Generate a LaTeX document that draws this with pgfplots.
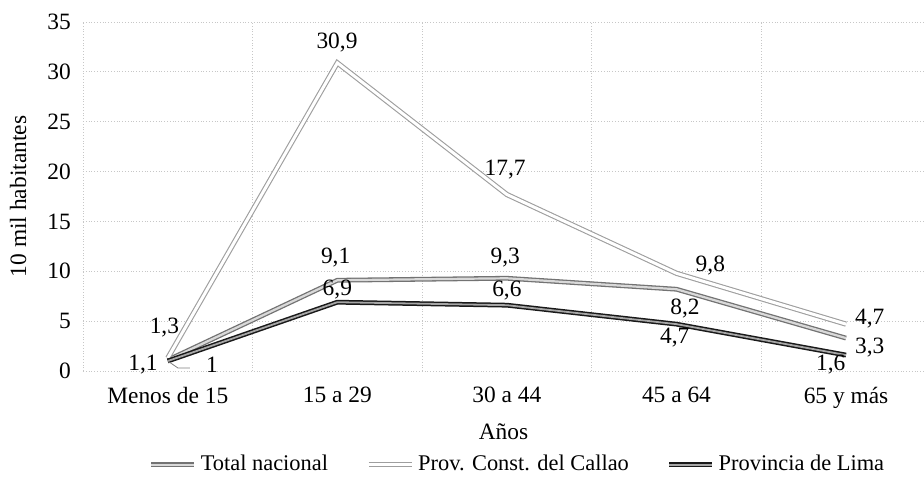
\documentclass[border=0pt]{standalone}
\usepackage{fontspec}
\setmainfont{Liberation Serif}
\usepackage{pgfplots}
\pgfplotsset{compat=1.18}
\begin{document}
\fontsize{11.7}{14}\selectfont
\begin{tikzpicture}
\useasboundingbox (-41.5pt,-55pt) rectangle (420.5pt,185.5pt);
\begin{axis}[
  scale only axis, width=420.5pt, height=174.5pt,
  at={(0,0)}, anchor=south west,
  xmin=-0.5, xmax=4.46, ymin=0, ymax=35,
  xtick={0,1,2,3,4},
  xticklabels={Menos de 15,15 a 29,30 a 44,45 a 64,65 y más},
  minor xtick={-0.5,0.5,1.5,2.5,3.5,4.5},
  ytick={0,5,...,35},
  xminorgrids, ymajorgrids,
  grid style={densely dotted, black!22, line width=0.4pt},
  minor grid style={densely dotted, black!22, line width=0.4pt},
  axis line style={draw=none},
  major tick length=0pt, minor tick length=0pt,
  /pgf/number format/assume math mode=true,
  tick label style={font=\fontsize{11.7}{14}\selectfont},
  label style={font=\fontsize{11.7}{14}\selectfont},
  yticklabel style={xshift=-2pt},
  xticklabel style={yshift=-4pt},
  xlabel={Años}, ylabel={10 mil habitantes},
  xlabel style={at={(axis description cs:0.5,-0.175)}, anchor=center},
  ylabel style={yshift=2.5pt},
  legend columns=3,
  legend style={at={(0.078,-0.269)}, anchor=west, draw=none, fill=none,
    font=\fontsize{11.2}{14}\selectfont, inner sep=0pt,
    /tikz/every even column/.append style={column sep=17pt}},
  legend image code/.code={\draw[#1] (0pt,0pt) -- (21.5pt,0pt);},
  clip=false,
]
\addplot[draw=black!55, double=black!15, double distance=1.1pt, line width=0.65pt]
  coordinates {(0,1.1) (1,9.1) (2,9.3) (3,8.2) (4,3.3)};
\addlegendentry{Total nacional}
\addplot[draw=black!38, double=white, double distance=1.5pt, line width=0.55pt]
  coordinates {(0,1.3) (1,30.9) (2,17.7) (3,9.8) (4,4.7)};
\addlegendentry{Prov. Const. del Callao}
\addplot[draw=black!90, double=black!35, double distance=0.9pt, line width=0.75pt]
  coordinates {(0,1.0) (1,6.9) (2,6.6) (3,4.7) (4,1.6)};
\addlegendentry{Provincia de Lima}
\node at (axis cs:-0.02,4.4) {1,3};
\node at (axis cs:-0.146,0.6) {1,1};
\node at (axis cs:0.26,0.6) {1};
\draw[black!50, line width=0.4pt] (axis cs:0.0,1.0) -- (axis cs:0.06,0.3) -- (axis cs:0.13,0.3);
\node at (axis cs:0.998,32.9) {30,9};
\node at (axis cs:1.99,20.2) {17,7};
\node at (axis cs:0.99,11.4) {9,1};
\node at (axis cs:1.99,11.4) {9,3};
\node at (axis cs:1.0,8.2) {6,9};
\node at (axis cs:2.0,8.1) {6,6};
\node at (axis cs:3.2,10.6) {9,8};
\node at (axis cs:3.05,6.3) {8,2};
\node at (axis cs:2.99,3.4) {4,7};
\node at (axis cs:4.14,5.3) {4,7};
\node at (axis cs:4.14,2.4) {3,3};
\node at (axis cs:3.91,0.6) {1,6};
\end{axis}
\end{tikzpicture}
\end{document}
